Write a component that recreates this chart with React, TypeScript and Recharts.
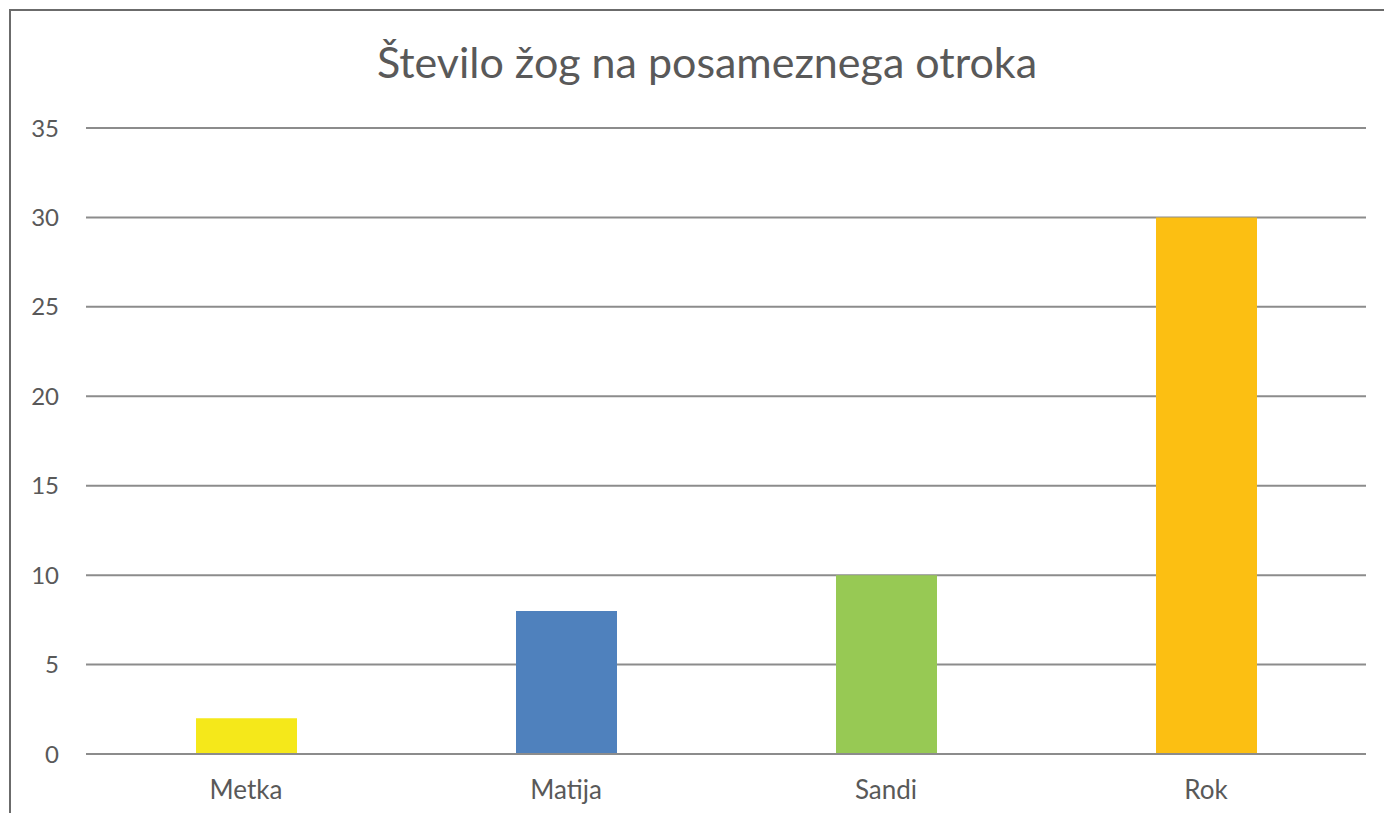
import React from 'react';
import { BarChart, Bar, XAxis, YAxis, CartesianGrid, Cell } from 'recharts';

const names = ['Metka', 'Matija', 'Sandi', 'Rok'];
const balls = [2, 8, 10, 30];
const barColors = ['#F5E81A', '#4F81BD', '#97C954', '#FCBF12'];
const yTicks = [0, 5, 10, 15, 20, 25, 30, 35];

const data = names.map((name, i) => ({ name, balls: balls[i] }));

const font = 'Lato, "Open Sans", sans-serif';

function App(): JSX.Element {
  return (
    <div style={{ position: 'relative', width: 1384, height: 805, fontFamily: font }}>
      <div
        style={{
          position: 'absolute',
          left: 1,
          top: 1,
          width: 1383,
          height: 804,
          boxSizing: 'border-box',
          borderLeft: '2px solid #6b6b6b',
          borderTop: '2px solid #6b6b6b',
        }}
      />
      <div
        style={{
          position: 'absolute',
          left: 14,
          top: 29,
          width: 1370,
          textAlign: 'center',
          fontSize: 43,
          lineHeight: '50px',
          color: '#595959',
        }}
      >
        Število žog na posameznega otroka
      </div>
      <BarChart
        width={1384}
        height={805}
        data={data}
        margin={{ top: 120, right: 26, left: 0, bottom: 19 }}
      >
        <CartesianGrid vertical={false} stroke="#8c8c8c" strokeWidth={2} />
        <XAxis
          dataKey="name"
          height={40}
          axisLine={{ stroke: '#8c8c8c', strokeWidth: 2 }}
          tickLine={false}
          tickSize={25}
          tick={{ fill: '#595959', fontSize: 26, fontFamily: font }}
        />
        <YAxis
          width={78}
          domain={[0, 35]}
          ticks={yTicks}
          axisLine={false}
          tickLine={false}
          tickSize={25}
          tick={{ fill: '#595959', fontSize: 24, fontFamily: font }}
        />
        <Bar dataKey="balls" barSize={101} isAnimationActive={false}>
          {data.map((d, i) => (
            <Cell key={d.name} fill={barColors[i]} />
          ))}
        </Bar>
      </BarChart>
    </div>
  );
}

export default App;
